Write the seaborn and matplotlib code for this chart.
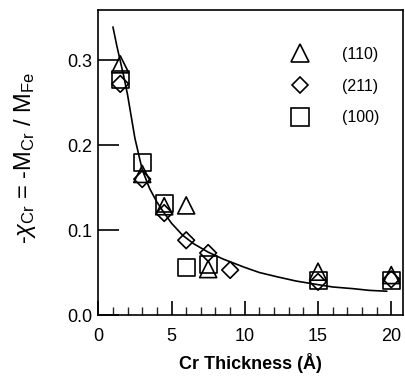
import matplotlib
matplotlib.use("Agg")
import matplotlib.pyplot as plt
import seaborn as sns
import pandas as pd
from matplotlib.lines import Line2D
from matplotlib.ticker import MultipleLocator

# ---- data ----
x_110 = [1.5, 3.0, 4.5, 6.0, 7.5, 15.0, 20.0]
y_110 = [0.295, 0.166, 0.128, 0.129, 0.054, 0.051, 0.047]

x_211 = [1.5, 3.0, 4.5, 6.0, 7.5, 9.0, 15.0, 20.0]
y_211 = [0.272, 0.160, 0.120, 0.088, 0.073, 0.053, 0.039, 0.042]

x_100 = [1.5, 3.0, 4.5, 6.0, 7.5, 15.0, 20.0]
y_100 = [0.277, 0.180, 0.131, 0.056, 0.059, 0.041, 0.041]

curve_x = [1.0, 1.25, 1.5, 1.75, 2.0, 2.5, 3.0, 3.5, 4.0, 4.5, 5.0, 5.75, 6.5,
           7.5, 8.5, 10.0, 11.0, 12.2, 13.5, 14.9, 16.0, 17.4, 18.5, 19.7]
curve_y = [0.339, 0.318, 0.299, 0.280, 0.259, 0.208, 0.171, 0.149, 0.133, 0.120,
           0.108, 0.094, 0.084, 0.074, 0.066, 0.056, 0.050, 0.045, 0.040, 0.036,
           0.033, 0.031, 0.029, 0.028]

series_labels = ["(110)", "(211)", "(100)"]
x_ticks = [0, 5, 10, 15, 20]
y_ticks = [0.0, 0.1, 0.2, 0.3]

# ---- styling ----
sns.set_style("ticks")
plt.rcParams["font.family"] = ["Liberation Sans", "DejaVu Sans"]
plt.rcParams["mathtext.fontset"] = "custom"
plt.rcParams["mathtext.rm"] = "Liberation Sans"
plt.rcParams["mathtext.it"] = "Liberation Sans:italic"
plt.rcParams["mathtext.bf"] = "Liberation Sans:bold"
plt.rcParams["text.color"] = "black"
plt.rcParams["axes.labelcolor"] = "black"

fig = plt.figure(figsize=(4.05, 3.81), dpi=100)
ax = fig.add_axes([0.2427, 0.1732, 0.7523, 0.8006])

curve_df = pd.DataFrame({"x": curve_x, "y": curve_y})
sns.lineplot(data=curve_df, x="x", y="y", ax=ax, color="black", lw=1.2,
             sort=False, legend=False)

markers = {"(110)": "^", "(211)": "D", "(100)": "s"}
sizes = {"(110)": 150, "(211)": 72, "(100)": 150}
for lab, xs, ys in [("(100)", x_100, y_100), ("(110)", x_110, y_110),
                    ("(211)", x_211, y_211)]:
    df = pd.DataFrame({"x": xs, "y": ys})
    sns.scatterplot(data=df, x="x", y="y", ax=ax, marker=markers[lab],
                    s=sizes[lab], facecolors="none", edgecolor="black",
                    linewidth=1.2, legend=False, zorder=3)

ax.set_xlim(0, 20.8)
ax.set_ylim(0, 0.359)
ax.set_xticks(x_ticks)
ax.set_xticklabels([str(t) for t in x_ticks])
ax.xaxis.set_minor_locator(MultipleLocator(1))
ax.set_yticks(y_ticks)
ax.set_yticklabels([f"{t:.1f}" for t in y_ticks])

ax.tick_params(axis="both", which="major", direction="in", width=1.2,
               labelsize=13, color="black", labelcolor="black")
ax.tick_params(axis="x", which="major", length=10, pad=9)
ax.tick_params(axis="y", which="major", length=15, pad=4)
ax.tick_params(axis="x", which="minor", direction="in", length=6, width=1.0)
for sp in ax.spines.values():
    sp.set_visible(True)
    sp.set_linewidth(1.2)
    sp.set_color("black")

ax.set_xlabel("Cr Thickness (Å)", fontsize=13, fontweight="bold", labelpad=6,
              color="black")
ax.set_ylabel(r"-$\chi_{\rm Cr}$ = -M$_{\rm Cr}$ / M$_{\rm Fe}$", fontsize=17,
              color="black")
ax.yaxis.set_label_coords(-0.198, 0.515)

handles = [Line2D([], [], ls="none", marker=markers[l], ms=ms, mfc="none",
                  mec="black", mew=1.2)
           for l, ms in zip(series_labels, [12.5, 8.5, 12.5])]
leg = ax.legend(handles, series_labels, loc="upper left",
                bbox_to_anchor=(0.6, 0.90), frameon=False, fontsize=11.5,
                handlelength=1.6, handletextpad=1.8, labelspacing=1.05,
                borderaxespad=0)
for t in leg.get_texts():
    t.set_color("black")

fig.savefig("out.png", dpi=100)
